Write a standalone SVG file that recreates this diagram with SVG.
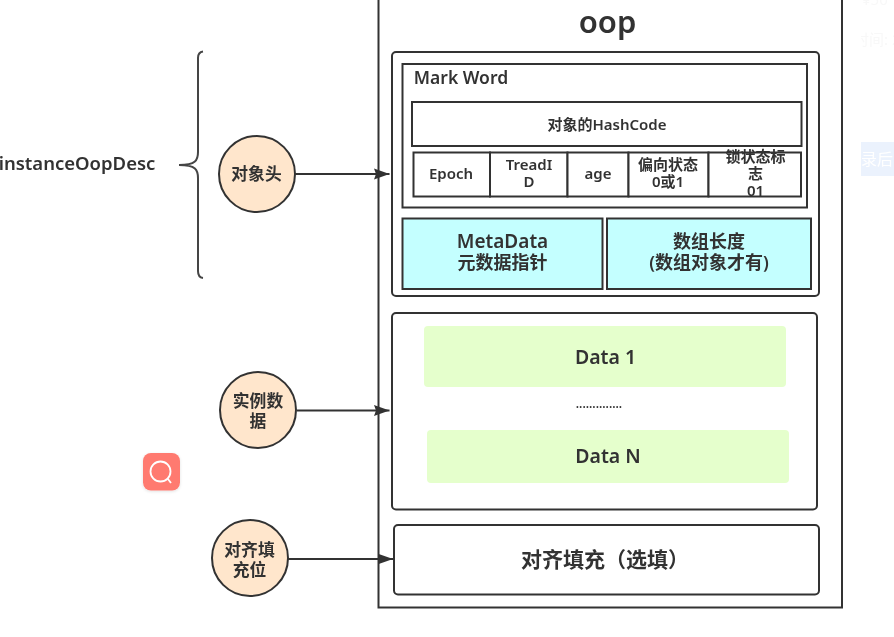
<svg xmlns="http://www.w3.org/2000/svg" width="894" height="637" viewBox="0 0 894 637">
  <defs>
    <marker id="arrow" markerUnits="userSpaceOnUse" markerWidth="16" markerHeight="12" refX="15.500" refY="6" orient="auto" viewBox="0 0 16 12">
      <path d="M0 0.500L15.500 6L0 11.500L2 6Z" fill="#333"/>
    </marker>
    <clipPath id="edge"><rect x="861" y="0" width="33" height="200"/></clipPath>
    <filter id="soft" x="0" y="0" width="894" height="637" filterUnits="userSpaceOnUse"><feGaussianBlur stdDeviation="0.45"/></filter>
    <filter id="shadow" x="-20%" y="-20%" width="140%" height="140%"><feDropShadow dx="0" dy="1" stdDeviation="1.5" flood-color="#000" flood-opacity="0.12"/></filter>
  </defs>
  <style>
    text { font-family: "Noto Sans", "Noto Sans CJK SC", sans-serif; fill: #333; text-anchor: middle; font-weight: 600; }
    .box { fill: #fff; stroke: #333; stroke-width: 2; }
    .cyan { fill: #c4ffff; stroke: #333; stroke-width: 2; }
    .green { fill: #e5ffcc; }
    .circle { fill: #ffe6cc; stroke: #333; stroke-width: 2; }
    .conn { fill: none; stroke: #333; stroke-width: 2; marker-end: url(#arrow); }
    .s15 { font-size: 15px; }
    .s17 { font-size: 16.800px; }
    .s18 { font-size: 18px; }
    .s19 { font-size: 19.500px; }
    .faint { fill: #f8f8f8; font-size: 15px; text-anchor: start; font-weight: 400; }
  </style>
  <rect width="894" height="637" fill="#fff"/>
  <g filter="url(#soft)">
    <g id="oop">
      <rect class="box" x="378.500" y="-1" width="463.500" height="608.500"/>
      <text x="607.500" y="33" font-size="31" font-weight="700">oop</text>
    </g>
    <g id="header">
      <rect class="box" x="392" y="52" width="427" height="244" rx="4"/>
    </g>
    <g id="mark-word">
      <rect class="box" x="402.500" y="64" width="404.500" height="143.500"/>
      <text x="461" y="84" font-size="17.500">Mark Word</text>
    </g>
    <g id="hashcode">
      <rect class="box" x="412" y="102" width="389.500" height="44"/>
      <text class="s15" x="607" y="129.500">对象的HashCode</text>
    </g>
    <g id="epoch">
      <rect class="box" x="413.500" y="152.500" width="76.500" height="44"/>
      <text class="s15" x="451" y="178.500">Epoch</text>
    </g>
    <g id="threadid">
      <rect class="box" x="490" y="152.500" width="77.500" height="44"/>
      <text class="s15" x="529" y="170"><tspan x="529">TreadI</tspan><tspan x="529" dy="17">D</tspan></text>
    </g>
    <g id="age">
      <rect class="box" x="567.500" y="152.500" width="61" height="44"/>
      <text class="s15" x="598" y="178.500">age</text>
    </g>
    <g id="biased">
      <rect class="box" x="628.500" y="152.500" width="80" height="44"/>
      <text class="s15" x="668" y="170"><tspan x="668">偏向状态</tspan><tspan x="668" dy="17">0或1</tspan></text>
    </g>
    <g id="lock">
      <rect class="box" x="708.500" y="152.500" width="92.500" height="44"/>
      <text class="s15" x="755.500" y="162"><tspan x="755.500">锁状态标</tspan><tspan x="755.500" dy="17">志</tspan><tspan x="755.500" dy="17">01</tspan></text>
    </g>
    <g id="metadata">
      <rect class="cyan" x="402.500" y="218.500" width="200" height="70.500"/>
      <text x="502.500" y="248" font-size="19">MetaData<tspan x="502.500" dy="21" font-size="18">元数据指针</tspan></text>
    </g>
    <g id="array-length">
      <rect class="cyan" x="607" y="218.500" width="204" height="70.500"/>
      <text class="s18" x="709" y="248">数组长度<tspan x="709" dy="21">(数组对象才有)</tspan></text>
    </g>
    <g id="instance-data">
      <rect class="box" x="392" y="313" width="425" height="196.500" rx="4"/>
      <text x="599" y="408" font-size="12" font-weight="400">..............</text>
    </g>
    <g id="data-1">
      <rect class="green" x="424" y="326" width="362" height="61" rx="4"/>
      <text class="s19" x="605.500" y="364">Data 1</text>
    </g>
    <g id="data-n">
      <rect class="green" x="427" y="430" width="362" height="53" rx="4"/>
      <text class="s19" x="608" y="463">Data N</text>
    </g>
    <g id="padding">
      <rect class="box" x="394" y="525" width="425" height="69.500" rx="4"/>
      <text x="605" y="567" font-size="21">对齐填充（选填）</text>
    </g>
    <g id="instance-label">
      <text x="77" y="170" font-size="18.500">instanceOopDesc</text>
    </g>
    <g id="brace">
      <path d="M203 51.500C199 52 198 54 198 58V152C198 160 196 165 179 165C196 165 198 170 198 178V271C198 275 199 277.500 203 278" fill="none" stroke="#444" stroke-width="2"/>
    </g>
    <g id="connectors">
      <path class="conn" d="M295 174H389.500"/>
      <path class="conn" d="M297 410.500H389.500"/>
      <path class="conn" d="M288 559H393"/>
    </g>
    <g id="object-header">
      <circle class="circle" cx="257" cy="174" r="38"/>
      <text class="s17" x="256.500" y="180">对象头</text>
    </g>
    <g id="instance-data-node">
      <circle class="circle" cx="258" cy="410" r="38"/>
      <text class="s17" x="258" y="407">实例数<tspan x="258" dy="20">据</tspan></text>
    </g>
    <g id="padding-node">
      <circle class="circle" cx="250" cy="558" r="38"/>
      <text class="s17" x="249.500" y="556">对齐填<tspan x="249.500" dy="20">充位</tspan></text>
    </g>
    <g id="search-icon">
      <rect x="143" y="453" width="37" height="37.500" rx="8" fill="#ff7a70" filter="url(#shadow)"/>
      <circle cx="160.500" cy="471.500" r="10" fill="none" stroke="#fff" stroke-width="1.800"/>
      <path d="M167.500 478.500L171 483" fill="none" stroke="#fff" stroke-width="1.800"/>
    </g>
    <g id="page-edge">
      <rect x="861" y="142" width="33" height="34" fill="#ebf2fd"/>
      <text class="faint" x="861" y="165" style="fill:#fff;font-size:16px">录后</text>
      <g clip-path="url(#edge)">
        <text class="faint" x="862" y="5">¥50</text>
        <text class="faint" x="854" y="45">时间: 2</text>
      </g>
    </g>
  </g>
</svg>
